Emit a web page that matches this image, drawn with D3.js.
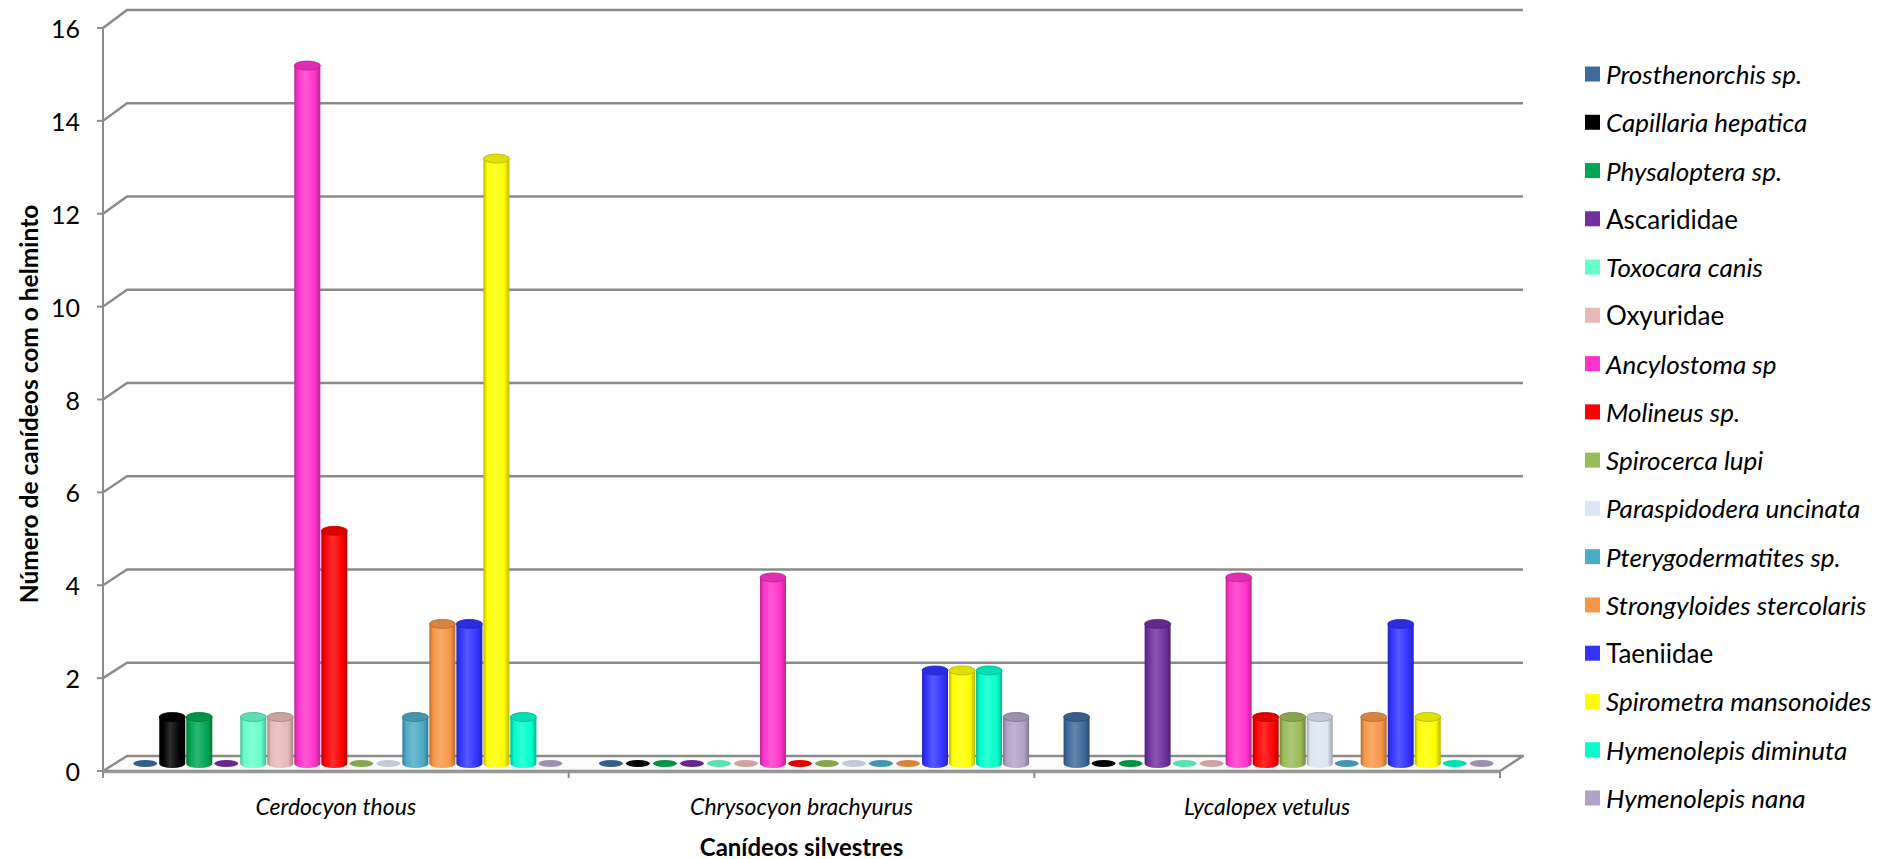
<!DOCTYPE html>
<html>
<head>
<meta charset="utf-8">
<script src="https://cdn.jsdelivr.net/npm/d3@7"></script>
<style>
  html, body { margin: 0; padding: 0; background: #ffffff; }
  svg { display: block; font-family: Lato, "Open Sans", "DejaVu Sans", sans-serif; }
</style>
</head>
<body>
<svg id="chart" width="1901" height="859"></svg>
<script>
// Host species (x categories)
const hosts = ["Cerdocyon thous", "Chrysocyon brachyurus", "Lycalopex vetulus"];

// Helminth taxa (series)
const helminths = [
  "Prosthenorchis sp.", "Capillaria hepatica", "Physaloptera sp.", "Ascarididae",
  "Toxocara canis", "Oxyuridae", "Ancylostoma sp", "Molineus sp.",
  "Spirocerca lupi", "Paraspidodera uncinata", "Pterygodermatites sp.",
  "Strongyloides stercolaris", "Taeniidae", "Spirometra mansonoides",
  "Hymenolepis diminuta", "Hymenolepis nana"
];

// Genus/species names are set in italics; family names are not
const italicNames = [true, true, true, false, true, false, true, true,
                     true, true, true, true, false, true, true, true];

const seriesColors = [
  "#3f6a9c", "#000000", "#00a651", "#7030a0", "#66ffcc", "#e6b9b8",
  "#ff33cc", "#ff0000", "#9bbb59", "#dce6f2", "#4bacc6", "#f79646",
  "#3333ff", "#ffff00", "#00ffcc", "#b3a2c7"
];

// Number of canids with each helminth, one array per host (series order above)
const cerdocyonThous       = [0, 1, 1, 0, 1, 1, 15, 5, 0, 0, 1, 3, 3, 13, 1, 0];
const chrysocyonBrachyurus = [0, 0, 0, 0, 0, 0, 4, 0, 0, 0, 0, 0, 2, 2, 2, 1];
const lycalopexVetulus     = [1, 0, 0, 3, 0, 0, 4, 1, 1, 1, 0, 1, 3, 1, 0, 0];

const yTicks = [0, 2, 4, 6, 8, 10, 12, 14, 16];

const counts = [cerdocyonThous, chrysocyonBrachyurus, lycalopexVetulus];

const svg = d3.select("#chart");
const defs = svg.append("defs");

// ---- geometry of the pseudo-3D box ----
const left = 103, right = 1500;      // front edge of the floor
const depthX = 24;                   // horizontal shift of the back wall
const axisColor = "#8c8c8c";

const x = d3.scaleBand().domain(hosts).range([left, right]).padding(0);
const xInner = d3.scaleBand().domain(helminths)
  .range([0, x.bandwidth()]).paddingInner(0).paddingOuter(0.62);

const yFront = d3.scaleLinear().domain([0, 16]).range([771, 28]);
const yBack  = d3.scaleLinear().domain([0, 16]).range([756, 10]);
const yMid = v => (yFront(v) + yBack(v)) / 2;

// ---- back wall gridlines (with the short diagonal on the side wall) ----
const grid = svg.append("g").attr("fill", "none").attr("stroke", "#8a8a8a").attr("stroke-width", 2.4);
grid.selectAll("path").data(yTicks.filter(v => v > 0)).join("path")
  .attr("d", v => `M${left},${yFront(v)}L${left + depthX},${yBack(v)}L${right + depthX - 1},${yBack(v)}`);

// ---- floor ----
svg.append("path")
  .attr("d", `M${left},${yFront(0)}L${left + depthX},${yBack(0)}L${right + depthX - 1},${yBack(0)}L${right},${yFront(0)}Z`)
  .attr("fill", "#fbfbfb")
  .attr("stroke", "#8a8a8a")
  .attr("stroke-width", 2.4)
  .attr("stroke-linejoin", "round");
svg.append("line")
  .attr("x1", left).attr("x2", right)
  .attr("y1", yFront(0) + 1).attr("y2", yFront(0) + 1)
  .attr("stroke", "#999").attr("stroke-width", 2.5);

// ---- y axis ----
const yAxisG = svg.append("g");
yAxisG.append("line")
  .attr("x1", left).attr("x2", left)
  .attr("y1", yFront(16)).attr("y2", yFront(0) + 7)
  .attr("stroke", axisColor).attr("stroke-width", 2);
yAxisG.selectAll("line.tick").data(yTicks).join("line")
  .attr("class", "tick")
  .attr("x1", left - 6).attr("x2", left)
  .attr("y1", v => yFront(v)).attr("y2", v => yFront(v))
  .attr("stroke", axisColor).attr("stroke-width", 2);
yAxisG.selectAll("text").data(yTicks).join("text")
  .attr("x", 80)
  .attr("y", v => yFront(v))
  .attr("text-anchor", "end")
  .attr("dominant-baseline", "central")
  .attr("font-size", 25)
  .attr("fill", "#000")
  .text(v => v);

// ---- x axis tick marks at category boundaries ----
const boundaries = hosts.map(h => x(h)).concat([right]);
svg.append("g").selectAll("line").data(boundaries).join("line")
  .attr("x1", d => d).attr("x2", d => d)
  .attr("y1", yFront(0)).attr("y2", yFront(0) + 7)
  .attr("stroke", axisColor).attr("stroke-width", 2);

// ---- cylinder shading gradients ----
seriesColors.forEach((c, i) => {
  const g = defs.append("linearGradient")
    .attr("id", "cyl" + i).attr("x1", "0").attr("x2", "1").attr("y1", "0").attr("y2", "0");
  const dark = d3.interpolateRgb(c, "#000")(0.28);
  const light = d3.interpolateRgb(c, "#fff")(0.18);
  [[0, dark], [0.14, c], [0.42, light], [0.8, c], [1, dark]].forEach(([o, col]) =>
    g.append("stop").attr("offset", o).attr("stop-color", col));
});

// ---- bars ----
const ry = 4.5;
const bars = svg.append("g");
hosts.forEach((h, hi) => {
  helminths.forEach((name, si) => {
    const v = counts[hi][si];
    const cx = x(h) + xInner(name) + xInner.bandwidth() / 2 + depthX / 2;
    const rx = xInner.bandwidth() / 2 - 0.5;
    const yb = yMid(0), yt = yMid(v);
    const c = seriesColors[si];
    const edge = d3.interpolateRgb(c, "#000")(0.3);
    if (v > 0) {
      bars.append("path")
        .attr("d", `M${cx - rx},${yb}L${cx - rx},${yt}L${cx + rx},${yt}L${cx + rx},${yb}A${rx},${ry} 0 0 1 ${cx - rx},${yb}Z`)
        .attr("fill", `url(#cyl${si})`);
      bars.append("ellipse")
        .attr("cx", cx).attr("cy", yt).attr("rx", rx).attr("ry", ry)
        .attr("fill", d3.interpolateRgb(c, "#000")(0.12))
        .attr("stroke", edge).attr("stroke-width", 0.8);
    } else {
      bars.append("ellipse")
        .attr("cx", cx).attr("cy", yb).attr("rx", rx - 1).attr("ry", 3.5)
        .attr("fill", d3.interpolateRgb(c, "#000")(0.12));
    }
  });
});

// ---- category labels ----
svg.append("g").selectAll("text").data(hosts).join("text")
  .attr("x", h => x(h) + x.bandwidth() / 2)
  .attr("y", 806)
  .attr("text-anchor", "middle")
  .attr("dominant-baseline", "central")
  .attr("font-size", 23)
  .attr("font-style", "italic")
  .attr("fill", "#000")
  .text(h => h);

// ---- axis titles ----
svg.append("text")
  .attr("x", x(hosts[1]) + x.bandwidth() / 2)
  .attr("y", 846)
  .attr("text-anchor", "middle")
  .attr("dominant-baseline", "central")
  .attr("font-size", 24)
  .attr("font-weight", "bold")
  .attr("fill", "#000")
  .text("Canídeos silvestres");

svg.append("text")
  .attr("transform", "translate(28,404) rotate(-90)")
  .attr("text-anchor", "middle")
  .attr("dominant-baseline", "central")
  .attr("font-size", 24.5)
  .attr("font-weight", "bold")
  .attr("fill", "#000")
  .text("Número de canídeos com o helminto");

// ---- legend ----
const legendY = d3.scalePoint().domain(helminths).range([74, 798]);
const legend = svg.append("g");
const items = legend.selectAll("g").data(helminths).join("g")
  .attr("transform", d => `translate(1585,${legendY(d)})`);
items.append("rect")
  .attr("x", 0).attr("y", -7.5).attr("width", 15).attr("height", 15)
  .attr("fill", (d, i) => seriesColors[i]);
items.append("text")
  .attr("x", 21).attr("y", 0)
  .attr("dominant-baseline", "central")
  .attr("font-size", 26)
  .attr("font-style", (d, i) => italicNames[i] ? "italic" : "normal")
  .attr("fill", "#000")
  .text(d => d);
</script>
</body>
</html>
